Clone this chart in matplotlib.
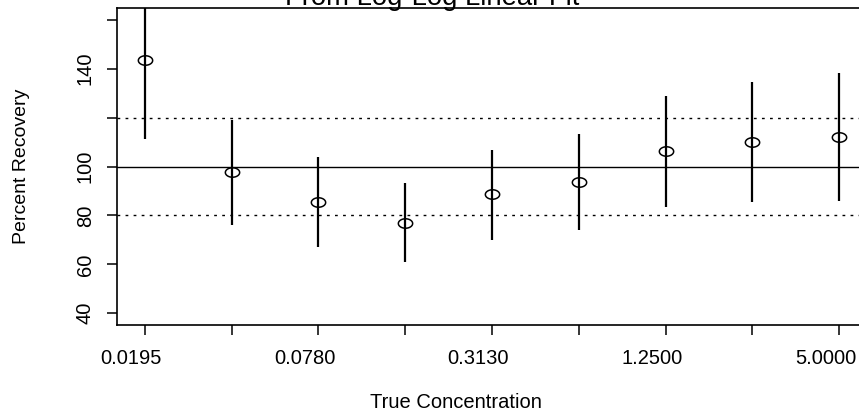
import numpy as np
import matplotlib.pyplot as plt
from matplotlib.path import Path
from matplotlib.transforms import ScaledTranslation

plt.rcParams['font.family'] = ['Liberation Sans', 'DejaVu Sans']

# true concentrations (R draws only every other label, the rest overlap)
conc_labels = ["0.0195", "0.0390", "0.0780", "0.1560", "0.3130",
               "0.6250", "1.2500", "2.5000", "5.0000"]
# percent recovery estimates and interval ends
recovery = [143.6, 97.7, 85.4, 77.0, 88.7, 93.6, 106.2, 110.1, 112.1]
lower = [111.3, 76.0, 67.2, 60.8, 70.1, 74.0, 83.4, 85.4, 85.8]
upper = [176.0, 119.2, 103.8, 93.2, 106.9, 113.1, 129.0, 134.4, 138.1]
ref_solid = [100]
ref_dotted = [80, 120]
y_ticks = [40, 60, 80, 100, 120, 140, 160]
y_tick_labels = ["40", "60", "80", "100", "", "140", ""]

W, H = 859, 412
fig = plt.figure(figsize=(W / 100, H / 100), dpi=100)
ax = fig.add_axes([117 / W, 1 - 325 / H, (867 - 117) / W, (325 - 8) / H])

x = np.arange(1, len(conc_labels) + 1)

# slightly flattened open circle, like the original
t = np.linspace(0, 2 * np.pi, 60)
ell = Path(np.column_stack([np.cos(t), 0.66 * np.sin(t)]), closed=True)

for v in ref_solid:
    ax.axhline(v, color='black', lw=1.0)
for v in ref_dotted:
    ax.axhline(v, color='black', lw=1.0, linestyle=(0, (2.0, 3.8)))

ax.vlines(x, lower, upper, color='black', lw=1.6)
ax.plot(x, recovery, ls='none', marker=ell, markersize=10.3,
        mfc='none', mec='black', mew=1.1)

ax.set_xlim(0.68, 9.32)
ax.set_ylim(35.2, 164.8)

ax.set_xticks(x)
ax.set_xticklabels([lab if i % 2 == 0 else "" for i, lab in enumerate(conc_labels)])
ax.set_yticks(y_ticks)
ax.set_yticklabels(y_tick_labels, rotation=90, va='center')

ax.tick_params(axis='both', length=7, width=1.1, labelsize=14.5, color='black')
ax.tick_params(axis='x', pad=10)
ax.tick_params(axis='y', pad=9)
shift = ScaledTranslation(-13.5 / 100, 0, fig.dpi_scale_trans)
for lab in ax.get_xticklabels():
    lab.set_transform(lab.get_transform() + shift)

for s in ax.spines.values():
    s.set_linewidth(1.2)

fig.text(432 / W, 1 - 5 / H, "From Log-Log Linear Fit", ha='center',
         va='baseline', fontsize=19.8)
fig.text(456 / W, 1 - 408 / H, "True Concentration", ha='center',
         va='baseline', fontsize=14.5)
fig.text(22 / W, 1 - 166 / H, "Percent Recovery", ha='center',
         va='center', rotation=90, fontsize=14.0)

fig.savefig("out.png", dpi=100)
